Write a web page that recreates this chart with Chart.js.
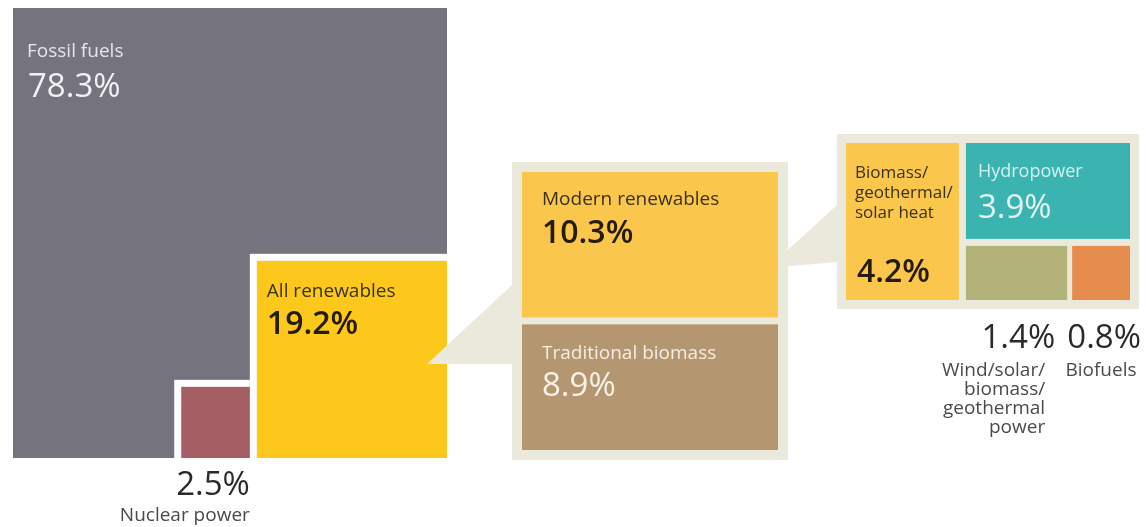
<!DOCTYPE html>
<html lang="en">
<head>
    <meta charset="UTF-8">
    <title>Global energy consumption by source</title>
    <script src="https://cdn.jsdelivr.net/npm/chart.js"></script>
    <style>
        body {
            margin: 0;
            padding: 0;
            background: #fff;
        }
        .container {
            width: 1146px;
            height: 527px;
        }
    </style>
</head>
<body>
    <div class="container">
        <canvas id="energyChart"></canvas>
    </div>

    <script>
        // shares of total final energy consumption, in %
        const categories = ['Fossil fuels', 'Nuclear power', 'All renewables'];
        const shares = [78.3, 2.5, 19.2];

        const renewCategories = ['Modern renewables', 'Traditional biomass'];
        const renewShares = [10.3, 8.9];

        const modernCategories = ['Biomass/geothermal/solar heat', 'Hydropower',
            'Wind/solar/biomass/geothermal power', 'Biofuels'];
        const modernShares = [4.2, 3.9, 1.4, 0.8];

        // panel frames, in axis units (the axes span the whole canvas)
        const frame1 = { x: 13, y: 8, w: 434, h: 450 };
        const frame2 = { x: 522, y: 172, w: 256, h: 278 };
        const frame3 = { x: 846, y: 143, w: 284, h: 157 };
        const gap = 7;
        const panelBg = '#ebe9db';

        const colors = {
            fossil: '#75737d',
            nuclear: '#a65e65',
            renew: '#fcc81c',
            modern: '#fbc64c',
            trad: '#b49671',
            heat: '#fbc64c',
            hydro: '#3bb4b1',
            wind: '#b3b279',
            biofuels: '#e58b4c'
        };

        const sum = arr => arr.reduce((a, b) => a + b, 0);

        // work out the cells from the shares
        function layout() {
            const total = sum(shares);
            const f = frame1;
            const fossil = { ...f };
            const kR = Math.sqrt(shares[2] / total);
            const renew = { w: f.w * kR, h: f.h * kR };
            renew.x = f.x + f.w - renew.w;
            renew.y = f.y + f.h - renew.h;
            const kN = Math.sqrt(shares[1] / total);
            const nuclear = { w: f.w * kN, h: f.h * kN };
            nuclear.x = renew.x - gap - nuclear.w;
            nuclear.y = f.y + f.h - nuclear.h;

            const g = frame2;
            const hAvail = g.h - gap;
            const modern = { x: g.x, y: g.y, w: g.w, h: hAvail * renewShares[0] / sum(renewShares) };
            const trad = { x: g.x, y: modern.y + modern.h + gap, w: g.w, h: hAvail * renewShares[1] / sum(renewShares) };

            const m = frame3;
            const wAvail = m.w - gap;
            const heat = { x: m.x, y: m.y, w: wAvail * modernShares[0] / sum(modernShares), h: m.h };
            const restX = heat.x + heat.w + gap;
            const restW = m.x + m.w - restX;
            const rest = sum(modernShares.slice(1));
            const hydro = { x: restX, y: m.y, w: restW, h: (m.h - gap) * modernShares[1] / rest };
            const rowY = hydro.y + hydro.h + gap;
            const rowH = m.y + m.h - rowY;
            const small = modernShares[2] + modernShares[3];
            const wind = { x: restX, y: rowY, w: (restW - 5) * modernShares[2] / small, h: rowH };
            const bio = { x: wind.x + wind.w + 5, y: rowY, w: restW - 5 - wind.w, h: rowH };

            return { fossil, renew, nuclear, modern, trad, heat, hydro, wind, bio };
        }

        const treemapPlugin = {
            id: 'treemap',
            afterDatasetsDraw(chart) {
                const ctx = chart.ctx;
                const xs = chart.scales.x, ys = chart.scales.y;
                const px = v => xs.getPixelForValue(v);
                const py = v => ys.getPixelForValue(v);
                const rect = (r, color, pad = 0) => {
                    ctx.fillStyle = color;
                    ctx.fillRect(px(r.x - pad), py(r.y - pad), px(r.x + r.w + pad) - px(r.x - pad), py(r.y + r.h + pad) - py(r.y - pad));
                };
                const poly = (pts, color) => {
                    ctx.fillStyle = color;
                    ctx.beginPath();
                    pts.forEach((p, i) => i ? ctx.lineTo(px(p[0]), py(p[1])) : ctx.moveTo(px(p[0]), py(p[1])));
                    ctx.closePath();
                    ctx.fill();
                };
                const text = (str, x, y, font, color, align = 'left') => {
                    ctx.font = font;
                    ctx.fillStyle = color;
                    ctx.textAlign = align;
                    ctx.textBaseline = 'alphabetic';
                    ctx.fillText(str, px(x), py(y));
                };
                const L = layout();
                const small = '500 19px "Open Sans"';
                const caption = '19px "Open Sans"';
                const bigBold = '600 32px "Open Sans"';
                const big = '33px "Open Sans"';
                const fmt = v => v.toFixed(1) + '%';

                ctx.save();

                // panel 1: all energy
                rect(L.fossil, colors.fossil);
                rect({ x: L.renew.x - gap, y: L.renew.y - gap, w: L.renew.w + gap, h: L.renew.h + gap }, '#ffffff');
                rect({ x: L.nuclear.x - gap, y: L.nuclear.y - gap, w: L.nuclear.w + gap, h: L.nuclear.h + gap }, '#ffffff');
                rect(L.renew, colors.renew);
                rect(L.nuclear, colors.nuclear);

                // callout wedges and panel backgrounds
                poly([[L.renew.x + L.renew.w - 20, 364], [frame2.x - 10, 285], [frame2.x - 10, 364]], panelBg);
                rect(frame2, panelBg, 10);
                poly([[L.modern.x + L.modern.w - 10, 268], [frame3.x - 9, 205], [frame3.x - 9, 262]], panelBg);
                rect(frame3, panelBg, 9);

                // panel 2: renewables
                rect(L.modern, colors.modern);
                rect(L.trad, colors.trad);

                // panel 3: modern renewables
                rect(L.heat, colors.heat);
                rect(L.hydro, colors.hydro);
                rect(L.wind, colors.wind);
                rect(L.bio, colors.biofuels);

                // labels
                text(categories[0], L.fossil.x + 14, L.fossil.y + 49, small, '#e6e5ea');
                text(fmt(shares[0]), L.fossil.x + 15, L.fossil.y + 89, big, '#f2f2f4');

                text(categories[2], L.renew.x + 10, L.renew.y + 36, small, '#3b3318');
                text(fmt(shares[2]), L.renew.x + 10, L.renew.y + 73, bigBold, '#241c0c');

                text(fmt(shares[1]), L.nuclear.x + L.nuclear.w, 495, big, '#2a2a2a', 'right');
                text(categories[1], L.nuclear.x + L.nuclear.w, 521, caption, '#4a4a4a', 'right');

                text(renewCategories[0], L.modern.x + 20, L.modern.y + 33, small, '#3b3318');
                text(fmt(renewShares[0]), L.modern.x + 20, L.modern.y + 71, bigBold, '#241c0c');

                text(renewCategories[1], L.trad.x + 20, L.trad.y + 35, small, '#f5eee3');
                text(fmt(renewShares[1]), L.trad.x + 20, L.trad.y + 72, big, '#f7f1e8');

                ['Biomass/', 'geothermal/', 'solar heat'].forEach((s, i) =>
                    text(s, L.heat.x + 9, L.heat.y + 35 + i * 20, '500 17px "Open Sans"', '#3b3318'));
                text(fmt(modernShares[0]), L.heat.x + 11, L.heat.y + 139, bigBold, '#241c0c');

                text(modernCategories[1], L.hydro.x + 12, L.hydro.y + 34, '500 18px "Open Sans"', '#d4efed');
                text(fmt(modernShares[1]), L.hydro.x + 12, L.hydro.y + 75, big, '#e2f5f3');

                text(fmt(modernShares[2]), L.wind.x + L.wind.w - 12, 348, big, '#2a2a2a', 'right');
                ['Wind/solar/', 'biomass/', 'geothermal', 'power'].forEach((s, i) =>
                    text(s, L.wind.x + L.wind.w - 22, 376 + i * 19, caption, '#4a4a4a', 'right'));

                text(fmt(modernShares[3]), 1141, 348, big, '#2a2a2a', 'right');
                text(modernCategories[3], 1101, 376, caption, '#4a4a4a', 'center');

                ctx.restore();
            }
        };

        const ctx = document.getElementById('energyChart').getContext('2d');
        new Chart(ctx, {
            type: 'scatter',
            data: { datasets: [] },
            options: {
                responsive: true,
                maintainAspectRatio: false,
                animation: false,
                layout: { padding: 0 },
                plugins: {
                    legend: { display: false },
                    tooltip: { enabled: false }
                },
                scales: {
                    x: { type: 'linear', min: 0, max: 1146, display: false },
                    y: { type: 'linear', min: 0, max: 527, reverse: true, display: false }
                }
            },
            plugins: [treemapPlugin]
        });
    </script>
</body>
</html>
